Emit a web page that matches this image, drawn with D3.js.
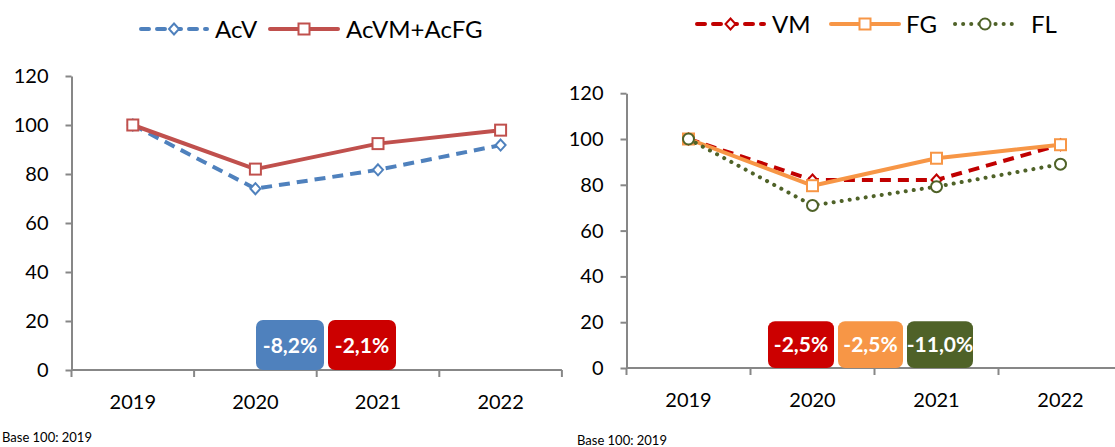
<!DOCTYPE html>
<html><head><meta charset="utf-8">
<script src="https://cdn.jsdelivr.net/npm/d3@7"></script>
<style>
html,body{margin:0;padding:0;background:#fff;}
svg{display:block;font-family:Lato,"Open Sans",sans-serif;}
</style></head>
<body>
<svg id="c" width="1115" height="447"></svg>
<script>
// ---- data ----
const years = ["2019","2020","2021","2022"];
const yTicks = [0,20,40,60,80,100,120];
const acV   = [100, 74.0, 81.7, 91.8];
const acVMFG= [100, 82.0, 92.4, 97.9];
const vm    = [100, 82.1, 82.1, 97.5];
const fg    = [100, 79.6, 91.6, 97.5];
const fl    = [100, 71.0, 79.2, 89.0];
const leftLabels  = ["-8,2%","-2,1%"];
const rightLabels = ["-2,5%","-2,5%","-11,0%"];
const baseNote = "Base 100: 2019";

const svg = d3.select("#c");
const axisColor = "#878787";

function panel(cfg){
  const g = svg.append("g");
  const x = d3.scaleBand().domain(years).range([cfg.x0, cfg.x0 + 4*cfg.step]).paddingInner(0).paddingOuter(0);
  const y = d3.scaleLinear().domain([0,120]).range([cfg.yBottom, cfg.yTop]);

  const ya = g.append("g").attr("transform", `translate(${cfg.x0},0)`)
    .call(d3.axisLeft(y).tickValues(yTicks).tickSize(6).tickPadding(17).tickSizeOuter(0));
  ya.select(".domain").attr("stroke", axisColor).attr("stroke-width", 2);
  ya.selectAll(".tick line").attr("stroke", axisColor).attr("stroke-width", 2);
  ya.selectAll("text").attr("font-size", 20).attr("fill", "#000").attr("font-family","Lato");

  const xa = g.append("g").attr("transform", `translate(0,${cfg.yBottom})`)
    .call(d3.axisBottom(x).tickSize(0).tickPadding(25).tickSizeOuter(0));
  xa.select(".domain").remove();
  xa.selectAll("text").attr("font-size", 20).attr("fill", "#000").attr("font-family","Lato");
  g.append("line").attr("x1", cfg.x0).attr("x2", Math.min(cfg.x0 + 4*cfg.step, 1115))
    .attr("y1", cfg.yBottom).attr("y2", cfg.yBottom).attr("stroke", axisColor).attr("stroke-width", 2);
  const bounds = years.map(d => x(d)).concat([x(years[3]) + x.bandwidth()]);
  g.selectAll(".bt").data(bounds).enter().append("line")
    .attr("x1", d=>d).attr("x2", d=>d).attr("y1", cfg.yBottom).attr("y2", cfg.yBottom+7)
    .attr("stroke", axisColor).attr("stroke-width", 2);

  const line = d3.line().x((d,i)=> x(years[i]) + x.bandwidth()/2).y(d => y(d));
  cfg.series.forEach(s => {
    g.append("path").datum(s.values).attr("d", line).attr("fill","none")
      .attr("stroke", s.color).attr("stroke-width", 4)
      .attr("stroke-dasharray", s.dash).attr("stroke-linecap", s.cap || "butt")
      .attr("stroke-linejoin","round");
    s.values.forEach((v,i) => marker(g, s.marker, x(years[i]) + x.bandwidth()/2, y(v), s.color));
  });

  cfg.boxes.forEach(b => {
    const top = y(20.4), bot = y(0);
    g.append("rect").attr("x", b.x).attr("y", top).attr("width", b.w).attr("height", bot - top)
      .attr("rx", 7).attr("fill", b.color);
    g.append("text").attr("x", b.x + b.w/2).attr("y", (top+bot)/2).attr("dy","0.36em")
      .attr("text-anchor","middle").attr("fill","#fff").attr("font-weight","bold")
      .attr("font-size", 21).text(b.text);
  });

  cfg.legend.forEach(l => {
    g.append("line").attr("x1", l.x1).attr("x2", l.x2).attr("y1", cfg.legY).attr("y2", cfg.legY)
      .attr("stroke", l.color).attr("stroke-width", 4).attr("stroke-dasharray", l.dash)
      .attr("stroke-linecap", l.cap || "round");
    marker(g, l.marker, (l.x1+l.x2)/2, cfg.legY, l.color);
    g.append("text").attr("x", l.tx).attr("y", cfg.legY).attr("dy","0.36em")
      .attr("font-size", 24).attr("fill","#000").text(l.label);
  });

  g.append("text").attr("x", cfg.noteX).attr("y", cfg.noteY).attr("font-size", 13)
    .attr("fill","#000").text(baseNote);
}

function marker(g, type, cx, cy, color){
  if (type === "diamond") {
    g.append("path").attr("d", `M${cx},${cy-5.5}L${cx+5},${cy}L${cx},${cy+5.5}L${cx-5},${cy}Z`)
      .attr("fill","#fff").attr("stroke", color).attr("stroke-width", 2);
  } else if (type === "square") {
    g.append("rect").attr("x", cx-5.5).attr("y", cy-5.5).attr("width", 11).attr("height", 11)
      .attr("fill","#fff").attr("stroke", color).attr("stroke-width", 2);
  } else {
    g.append("circle").attr("cx", cx).attr("cy", cy).attr("r", 5.5)
      .attr("fill","#fff").attr("stroke", color).attr("stroke-width", 2);
  }
}

const blue = "#4F81BD", red = "#C0504D", boxRed = "#CC0000", vmRed = "#C00000", orange = "#F79646", green = "#4F6228";

panel({
  x0: 71.5, step: 122.6, yBottom: 370, yTop: 76,
  series: [
    {values: acV, color: blue, dash: "11 7", marker: "diamond"},
    {values: acVMFG, color: red, dash: null, marker: "square"}
  ],
  boxes: [
    {x: 256, w: 68, color: blue, text: leftLabels[0]},
    {x: 328, w: 68, color: boxRed, text: leftLabels[1]}
  ],
  legY: 29,
  legend: [
    {x1: 141, x2: 207, color: blue, dash: "8 8", marker: "diamond", tx: 215, label: "AcV"},
    {x1: 270, x2: 338, color: red, dash: null, marker: "square", tx: 346, label: "AcVM+AcFG"}
  ],
  noteX: 2, noteY: 442
});

panel({
  x0: 626.5, step: 124, yBottom: 368, yTop: 93.2,
  series: [
    {values: vm, color: vmRed, dash: "11 7", marker: "diamond"},
    {values: fg, color: orange, dash: null, marker: "square"},
    {values: fl, color: green, dash: "0.1 8", cap: "round", marker: "circle"}
  ],
  boxes: [
    {x: 768, w: 66, color: boxRed, text: rightLabels[0]},
    {x: 838, w: 65, color: orange, text: rightLabels[1]},
    {x: 907, w: 66, color: green, text: rightLabels[2]}
  ],
  legY: 24,
  legend: [
    {x1: 697, x2: 764, color: vmRed, dash: "8 8", marker: "diamond", tx: 772, label: "VM"},
    {x1: 831, x2: 899, color: orange, dash: null, marker: "square", tx: 906, label: "FG"},
    {x1: 955, x2: 1015, color: green, dash: "0.1 8", cap: "round", marker: "circle", tx: 1031, label: "FL"}
  ],
  noteX: 577, noteY: 445
});
</script>
</body></html>
